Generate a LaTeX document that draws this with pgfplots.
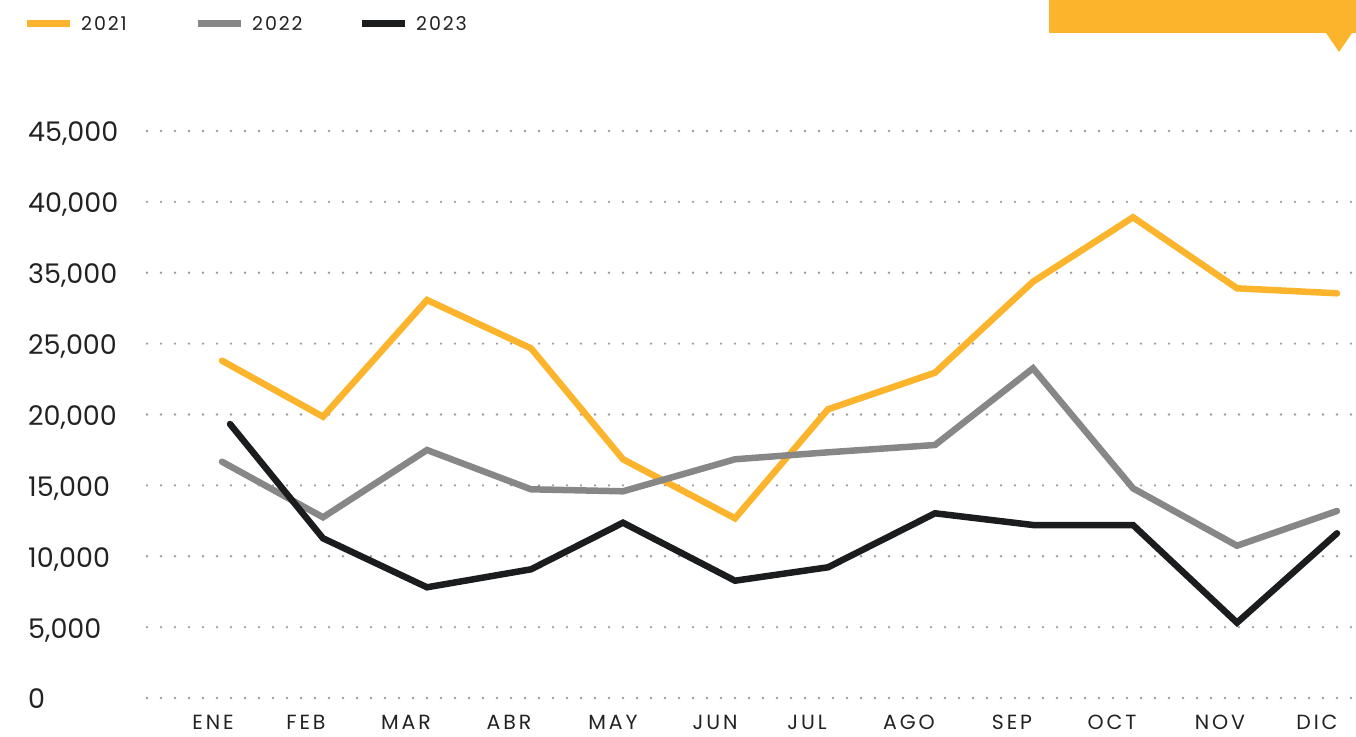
\documentclass[border=0pt]{standalone}
\usepackage{fontspec}
\setmainfont{Poppins}
\newfontfamily\monthfont{Poppins}[LetterSpace=14]
\newfontfamily\legfont{Poppins}[LetterSpace=10]
\usepackage{pgfplots}
\pgfplotsset{compat=1.18}
\definecolor{cA}{HTML}{FBB42C}
\definecolor{cB}{HTML}{878787}
\definecolor{cC}{HTML}{1B1C1E}
\definecolor{cGrid}{HTML}{9C9C9C}
\definecolor{cText}{HTML}{222222}
\begin{document}
\begin{tikzpicture}[x=1pt,y=1pt]
\path[use as bounding box] (0,0) rectangle (1356,736);
\fill[cA] (1049,736) -- (1356,736) -- (1356,703) -- (1352,703) -- (1339,684) -- (1326,703) -- (1049,703) -- cycle;
\begin{axis}[
  at={(147pt,38pt)}, anchor=south west,
  scale only axis, width=1207pt, height=567pt,
  xmin=147, xmax=1354, ymin=0, ymax=40000,
  scaled y ticks=false, scaled x ticks=false,
  axis line style={draw=none},
  major tick length=0pt,
  clip=false,
  ymajorgrids,
  grid style={dash pattern=on 0pt off 14pt, line cap=round, line width=2.6pt, color=cGrid},
  ytick={0,5000,10000,15000,20000,25000,30000,35000,40000},
  yticklabels={0,{5,000},{10,000},{15,000},{20,000},{25,000},{35,000},{40,000},{45,000}},
  yticklabel style={anchor=west, xshift=-119pt, yshift=-1pt, inner sep=0pt, text depth=0pt, text=cText, font=\fontsize{27}{27}\selectfont},
  xtick={213,306,406,509,613,715,807,909,1012,1112,1220,1317},
  xticklabels={ENE,FEB,MAR,ABR,MAY,JUN,JUL,AGO,SEP,OCT,NOV,DIC},
  xticklabel style={anchor=north, yshift=-17pt, inner sep=0pt, text depth=0pt, text=cText, font=\monthfont\fontsize{20.5}{20.5}\selectfont},
  legend columns=3,
  legend style={at={(-0.10273,1.1890)}, anchor=west, draw=none, fill=none, inner sep=0pt,
    nodes={inner sep=0pt, text depth=0pt, text=cText, font=\legfont\fontsize{19}{19}\selectfont},
    /tikz/every odd column/.append style={column sep=8pt}},
  legend image code/.code={\draw[#1, line width=7pt, line cap=butt] (0pt,0pt) -- (43pt,0pt);},
]
\addplot[color=cA, line width=6.5pt, line cap=round, line join=miter] coordinates {
(222,23795) (323,19845) (427,28078) (531,24670) (623,16840) (735,12677)
(828,20367) (935,22949) (1033,29369) (1133,33912) (1237,28903) (1337,28550)};
\addlegendentry{\makebox[113pt][l]{2021}}
\addplot[color=cB, line width=6.5pt, line cap=round, line join=miter] coordinates {
(222,16670) (323,12748) (427,17496) (531,14723) (623,14582) (735,16840)
(828,17333) (935,17848) (1033,23259) (1133,14794) (1237,10744) (1337,13192)};
\addlegendentry{\makebox[106pt][l]{2022}}
\addplot[color=cC, line width=6.5pt, line cap=round, line join=miter] coordinates {
(230,19330) (323,11266) (427,7810) (531,9079) (623,12367) (735,8275)
(828,9221) (935,13030) (1033,12204) (1133,12204) (1237,5312) (1337,11619)};
\addlegendentry{\makebox[106pt][l]{2023}}
\end{axis}
\end{tikzpicture}
\end{document}
